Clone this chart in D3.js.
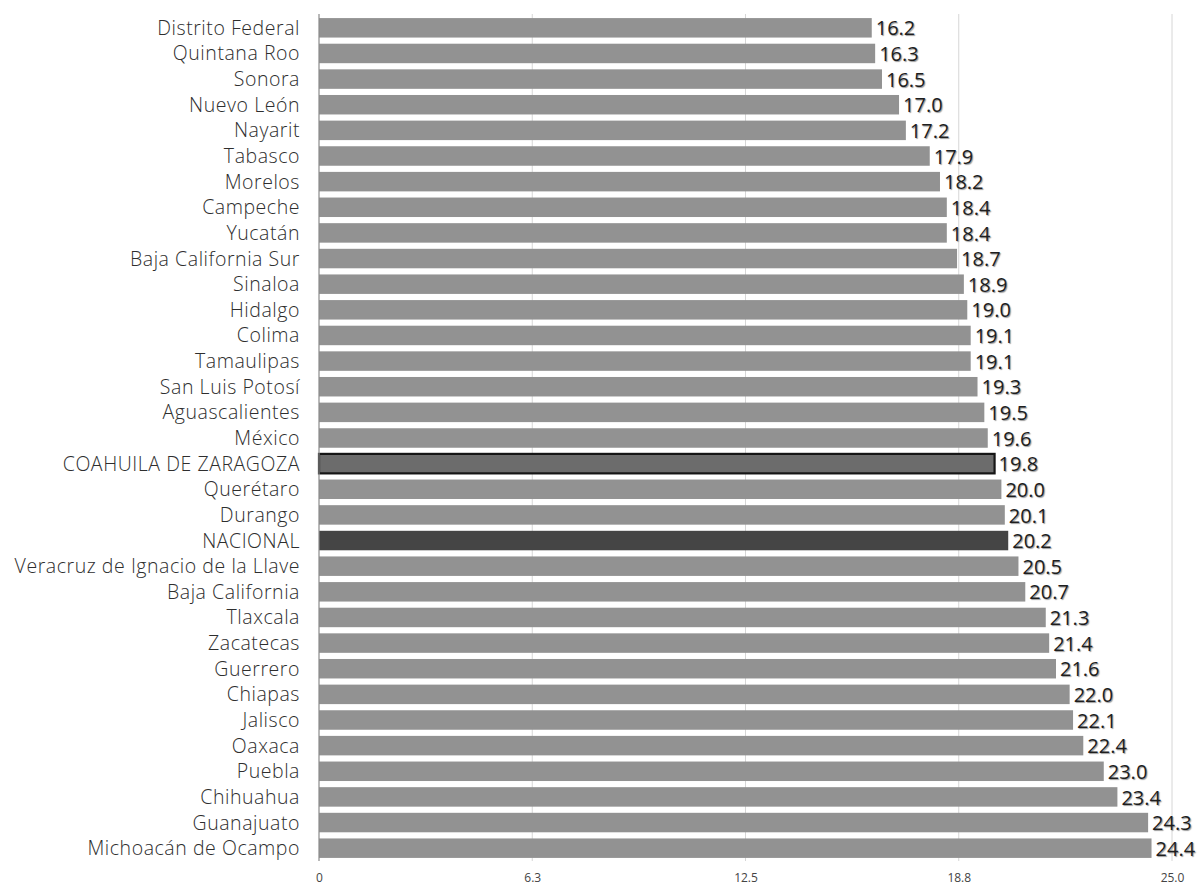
<!DOCTYPE html>
<html><head><meta charset="utf-8">
<script src="https://cdn.jsdelivr.net/npm/d3@7"></script>
<style>
body{margin:0;background:#fff;}
svg{display:block;}
.lbl{font-family:"Open Sans",sans-serif;font-weight:300;font-size:19.5px;letter-spacing:0.55px;fill:#2e2e2e;}
.val{font-family:"Open Sans",sans-serif;font-weight:400;font-size:20px;fill:#1e1e1e;}
.tick text{font-family:"Open Sans",sans-serif;font-size:12px;fill:#444;}
</style></head><body>
<svg id="c" width="1200" height="885"></svg>
<script>
const categories = ["Distrito Federal","Quintana Roo","Sonora","Nuevo León","Nayarit","Tabasco","Morelos","Campeche","Yucatán","Baja California Sur","Sinaloa","Hidalgo","Colima","Tamaulipas","San Luis Potosí","Aguascalientes","México","COAHUILA DE ZARAGOZA","Querétaro","Durango","NACIONAL","Veracruz de Ignacio de la Llave","Baja California","Tlaxcala","Zacatecas","Guerrero","Chiapas","Jalisco","Oaxaca","Puebla","Chihuahua","Guanajuato","Michoacán de Ocampo"];
const values = [16.2,16.3,16.5,17.0,17.2,17.9,18.2,18.4,18.4,18.7,18.9,19.0,19.1,19.1,19.3,19.5,19.6,19.8,20.0,20.1,20.2,20.5,20.7,21.3,21.4,21.6,22.0,22.1,22.4,23.0,23.4,24.3,24.4];
const tickValues = [0,6.25,12.5,18.75,25];
const tickLabels = ["0","6.3","12.5","18.8","25.0"];
const highlightState = "COAHUILA DE ZARAGOZA";
const nationalLabel = "NACIONAL";

const svg = d3.select("#c");
const x = d3.scaleLinear().domain([0,25]).range([319,1172]);
const y = d3.scaleBand().domain(categories).range([15,861]).paddingInner(0.24).paddingOuter(0.12);

// gridlines
svg.append("g").selectAll("line").data(tickValues.slice(1)).join("line")
  .attr("x1",d=>x(d)).attr("x2",d=>x(d)).attr("y1",14).attr("y2",861)
  .attr("stroke","#d6d6d6").attr("stroke-width",1);

// bars
svg.append("g").selectAll("rect").data(categories).join("rect")
  .attr("x",x(0)).attr("y",d=>y(d))
  .attr("width",(d,i)=>x(values[i])-x(0)).attr("height",y.bandwidth())
  .attr("fill",d=>d===nationalLabel?"#454545":(d===highlightState?"#6c6c6c":"#929292"))
  .attr("stroke",d=>d===highlightState?"#161616":"none")
  .attr("stroke-width",d=>d===highlightState?2.2:0);

// axis line
svg.append("line").attr("x1",x(0)).attr("x2",x(0)).attr("y1",14).attr("y2",861)
  .attr("stroke","#8a8a8a").attr("stroke-width",1.2);

// category labels
svg.append("g").selectAll("text").data(categories).join("text")
  .attr("class","lbl").attr("x",300).attr("y",d=>y(d)+y.bandwidth()/2)
  .attr("dy","0.36em").attr("text-anchor","end").text(d=>d);

// value labels
svg.append("g").selectAll("text").data(categories).join("text")
  .attr("class","val").attr("x",(d,i)=>x(values[i])+4).attr("y",d=>y(d)+y.bandwidth()/2)
  .attr("dy","0.38em").style("text-shadow","1px 1px 1px #999")
  .text((d,i)=>values[i].toFixed(1));

// bottom axis
const ax = d3.axisBottom(x).tickValues(tickValues).tickFormat((d,i)=>tickLabels[i]).tickSize(0).tickPadding(0);
const g = svg.append("g").attr("class","tick-axis").attr("transform","translate(0,882)").call(ax);
g.select(".domain").remove();
g.selectAll("text").attr("y",0).attr("dy","0");
</script>
</body></html>
